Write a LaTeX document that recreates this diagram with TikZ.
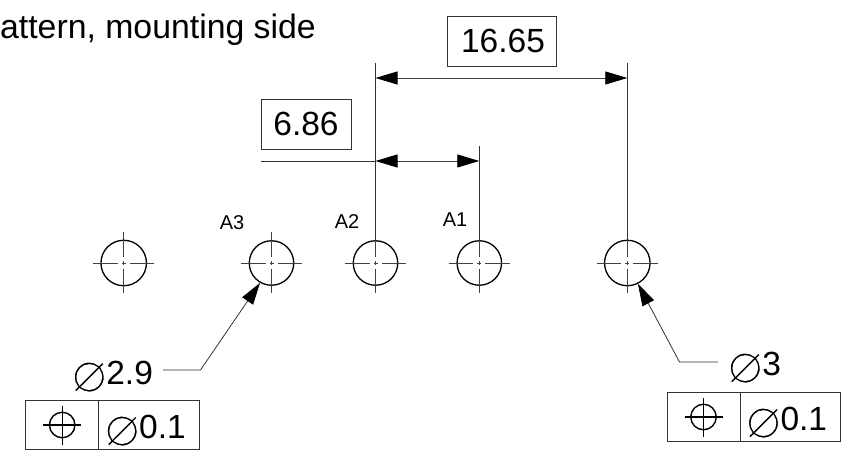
\documentclass[tikz,border=0pt]{standalone}
\usepackage{fontspec}
\setmainfont{Liberation Sans}
\newfontfamily\symfont{DejaVu Sans}
\usetikzlibrary{arrows.meta,positioning}
% thin white outline on the glyph, its strokes are too heavy at this size
\newcommand{\dia}{\raisebox{-8pt}{\special{pdf:code q 2 Tr 2.4 w 1 1 1 RG}\fontsize{60}{60}\symfont\char"2300\special{pdf:code Q}}\hspace{-1pt}}
\begin{document}
\begin{tikzpicture}[x=1pt,y=-1pt]

% definitions
\tikzstyle{hole} = [circle, draw=black, line width=1.3pt, minimum size=45.5pt, inner sep=0pt]
\tikzstyle{centerline} = [draw=black!75, line width=0.8pt, dash pattern=on 24.5pt off 4pt on 4pt off 4pt on 24.5pt]
\tikzstyle{extline} = [draw=black!80, line width=0.8pt]
\tikzstyle{arrow} = [{Triangle[length=22pt,width=13pt,fill=black,color=black]}-{Triangle[length=22pt,width=13pt,fill=black,color=black]}, draw=black!75, line width=0.8pt]
\tikzstyle{leader} = [-{Triangle[length=22pt,width=13pt,fill=black,color=black]}, draw=black!80, line width=0.8pt]
\tikzstyle{dimbox} = [rectangle, draw=black!80, line width=0.8pt, minimum height=50pt, inner sep=0pt, font=\fontsize{33.5}{33.5}\selectfont]
\tikzstyle{symcell} = [rectangle, draw=black!80, line width=0.8pt, minimum width=73pt, minimum height=49.5pt, inner sep=0pt, outer sep=0pt]
\tikzstyle{valcell} = [rectangle, draw=black!80, line width=0.8pt, minimum width=100.5pt, minimum height=49.5pt, inner sep=0pt, outer sep=0pt, text height=26pt, text depth=0pt, font=\fontsize{33.5}{33.5}\selectfont]
\tikzstyle{possym} = [circle, draw=black, line width=1.4pt, minimum size=25.5pt, inner sep=0pt]
\tikzstyle{poscross} = [draw=black, line width=1.4pt]
\tikzstyle{pinlabel} = [font=\fontsize{20}{20}\selectfont, inner sep=0pt]
\tikzstyle{dimlabel} = [font=\fontsize{33.5}{33.5}\selectfont, inner sep=0pt]

\useasboundingbox (0,0) rectangle (843,462);

% the holes
\node (h1) [hole] at (123.7,263) {};
\node (h2) [hole, minimum size=44.5pt] at (271.5,263) {};
\node (h3) [hole, minimum size=44.5pt] at (375.5,263) {};
\node (h4) [hole, minimum size=44.5pt] at (479.3,263) {};
\node (h5) [hole] at (627.3,263) {};

\foreach \h in {h1,h2,h3,h4,h5} {
  \draw [centerline] ([xshift=-30.5pt]\h.center) -- ([xshift=30.5pt]\h.center);
  \draw [centerline] ([yshift=30.5pt]\h.center) -- ([yshift=-30.5pt]\h.center);
}

% the labels
\node (title) [dimlabel, anchor=base east, font=\fontsize{33.8}{33.8}\selectfont] at (316,39) {attern, mounting side};
\node (a3) [pinlabel, anchor=base] at (232,230) {A3};
\node (a2) [pinlabel, anchor=base] at (347,229) {A2};
\node (a1) [pinlabel, anchor=base] at (455,227) {A1};

% dimensions
\coordinate (e3top) at (375.5,63);
\coordinate (e5top) at (627.3,63);
\coordinate (e3mid) at (375.5,146);
\coordinate (e4mid) at (479.3,146);
\coordinate (d16a) at (375.5,78);
\coordinate (d16b) at (627.3,78);
\coordinate (d6a) at (375.5,161);
\coordinate (d6b) at (479.3,161);
\coordinate (d6tail) at (261,161);

\draw [extline] (e3top) -- (h3.north);
\draw [extline] (e3mid) -- (h3.north);
\draw [extline] (e5top) -- (h5.north);
\draw [extline] (e4mid) -- (h4.north);
\draw [arrow] (d16a) -- (d16b);
\draw [arrow] (d6a) -- (d6b);
\draw [extline] (d6tail) -- (d6a);

\node (dim16) [dimbox, minimum width=109pt] at (501.5,41) {\hspace{3pt}16.65};
\node (dim6) [dimbox, minimum width=90pt] at (306,124) {6.86};

% left callout
\node (dial) [dimlabel, anchor=base west] at (71,384) {\dia 2.9};
\coordinate (kneel) at (200.5,370);
\coordinate (taill) at (163,370);
\draw [leader] (taill) -- (kneel) -- (h2.240);
\node (syml) [symcell] at (62.2,425) {};
\node (vall) [valcell, minimum width=100.5pt, anchor=west] at (syml.east) {\hspace{-8pt}\dia 0.1};
\node (posl) [possym] at (syml) {};
\draw [poscross] ([xshift=-19pt]posl.center) -- ([xshift=19pt]posl.center);
\draw [poscross] ([yshift=-19.5pt]posl.center) -- ([yshift=19.5pt]posl.center);

% right callout
\node (diar) [dimlabel, anchor=base west] at (727,375) {\dia 3};
\coordinate (kneer) at (679.5,362);
\coordinate (tailr) at (718,362);
\draw [leader] (tailr) -- (kneer) -- (h5.297);
\node (symr) [symcell] at (703.5,417) {};
\node (valr) [valcell, anchor=west] at (symr.east) {\hspace{-8pt}\dia 0.1};
\node (posr) [possym] at (symr) {};
\draw [poscross] ([xshift=-19pt]posr.center) -- ([xshift=19pt]posr.center);
\draw [poscross] ([yshift=-19.5pt]posr.center) -- ([yshift=19.5pt]posr.center);

\end{tikzpicture}
\end{document}
